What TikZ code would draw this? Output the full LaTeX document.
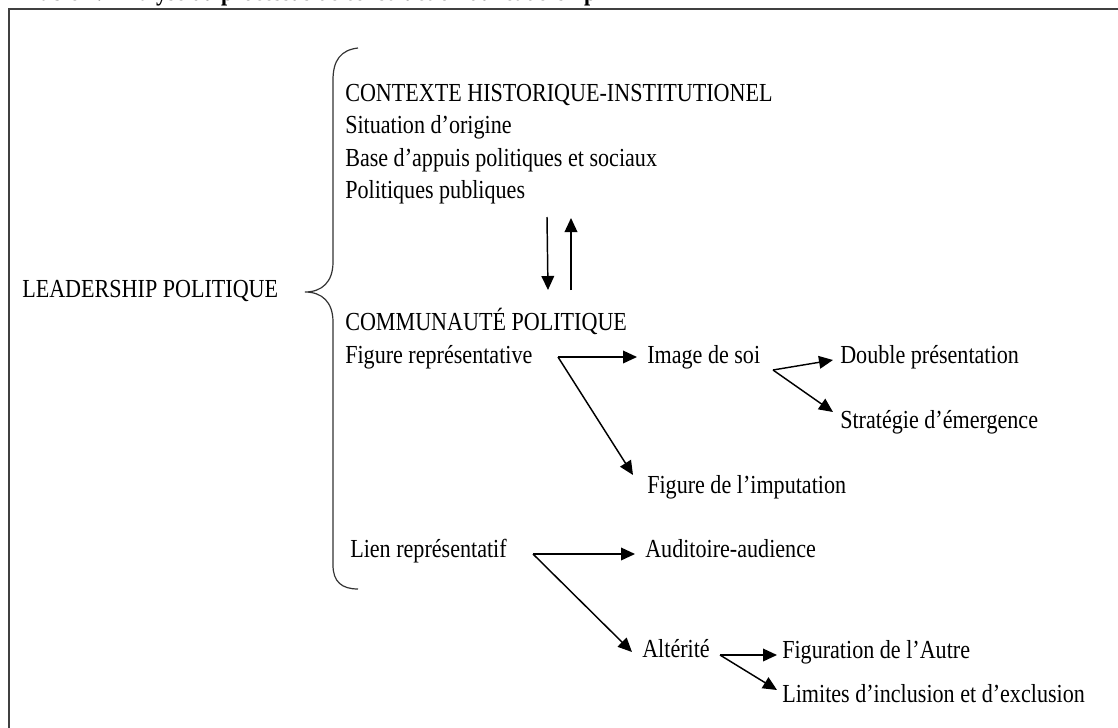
\documentclass[tikz,border=0pt]{standalone}
\usepackage{fontspec}
\setmainfont[FakeStretch = 0.85]{Liberation Serif}
\usetikzlibrary{arrows.meta}

\tikzset{
  txt/.style = {anchor = base west, inner sep = 0pt,
                font = \fontsize{19.5}{23}\selectfont},
  arr/.style = {line width = 1.1pt,
                -{Triangle[length = 10.5pt, width = 9.5pt]}},
}

\begin{document}
\begin{tikzpicture}[x = 0.75pt, y = -0.75pt]

  \useasboundingbox (0,0) rectangle (1118,728);
  \clip (0,0) rectangle (1118,728);

  % cadre et titre
  \draw[line width = 1.5pt, black!75] (9,9) rectangle (1130,740);
  \node[txt, font = \fontsize{19.5}{23}\selectfont\bfseries] (titre) at (27,1)
        {Table 1: Analyse du processus de construction du leadership};

  \node[txt] (leader) at (22,297) {LEADERSHIP POLITIQUE};

  % accolade
  \draw[line width = 0.9pt, black!80]
        (358,48) .. controls (341,50) and (333,60) .. (333,80)
        -- (333,262) .. controls (333,282) and (322,292) .. (305,292)
        .. controls (322,292) and (333,302) .. (333,322)
        -- (333,565) .. controls (333,582) and (342,589) .. (358,589);

  \node[txt] (ctx) at (345,101) {CONTEXTE HISTORIQUE-INSTITUTIONEL};
  \node[txt] (origine) at (345,133) {Situation d’origine};
  \node[txt] (appuis) at (345,166) {Base d’appuis politiques et sociaux};
  \node[txt] (publiques) at (345,198) {Politiques publiques};

  \node[txt] (comm) at (345,330) {COMMUNAUTÉ POLITIQUE};
  \node[txt] (figrep) at (345,363) {Figure représentative};
  \node[txt] (image) at (647,363) {Image de soi};
  \node[txt] (double) at (840,363) {Double présentation};
  \node[txt] (strat) at (840,428) {Stratégie d’émergence};
  \node[txt] (imput) at (647,493) {Figure de l’imputation};

  \node[txt] (lien) at (350,557) {Lien représentatif};
  \node[txt] (audit) at (645,557) {Auditoire-audience};
  \node[txt] (alter) at (642,657) {Altérité};
  \node[txt] (figaut) at (782,658) {Figuration de l’Autre};
  \node[txt] (limites) at (782,702) {Limites d’inclusion et d’exclusion};

  % points de depart
  \coordinate (frsrc) at (558,357);
  \coordinate (imsrc) at (773,370);
  \coordinate (lisrc) at (533,554);
  \coordinate (alsrc) at (720,655);

  % aller-retour
  \draw[arr] ([shift={(202,19)}]publiques.base west)
          -- ([shift={(203,-40)}]comm.base west);
  \draw[arr] ([shift={(226,-40)}]comm.base west)
          -- ([shift={(226,20)}]publiques.base west);

  \draw[arr] (frsrc) -- ([shift={(-10,-6)}]image.base west);
  \draw[arr] (frsrc) -- ([shift={(-14,-18)}]imput.base west);
  \draw[arr] (imsrc) -- ([shift={(-7,-3)}]double.base west);
  \draw[arr] (imsrc) -- ([shift={(-7,-16)}]strat.base west);

  \draw[arr] (lisrc) -- ([shift={(-10,-3)}]audit.base west);
  \draw[arr] (lisrc) -- ([shift={(-10,-5)}]alter.base west);
  \draw[arr] (alsrc) -- ([shift={(-5,-3)}]figaut.base west);
  \draw[arr] (alsrc) -- ([shift={(-5,-12)}]limites.base west);

\end{tikzpicture}
\end{document}
